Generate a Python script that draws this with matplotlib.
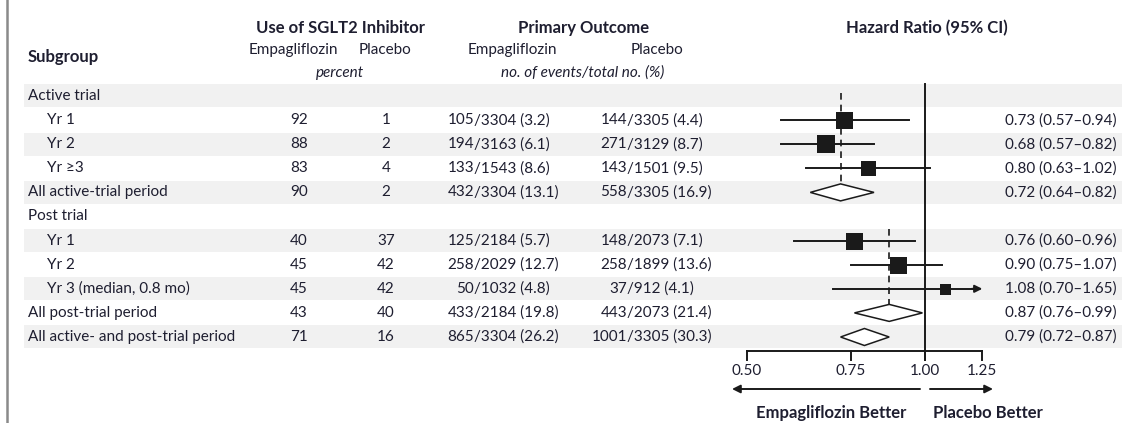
import numpy as np
import matplotlib.pyplot as plt
from matplotlib.patches import Polygon

plt.rcParams['font.family'] = ['Lato', 'DejaVu Sans']

# ---- data -------------------------------------------------------------
labels = ["Active trial", "Yr 1", "Yr 2", "Yr \u22653", "All active-trial period",
          "Post trial", "Yr 1", "Yr 2", "Yr 3 (median, 0.8 mo)",
          "All post-trial period", "All active- and post-trial period"]
kind = ["group", "sub", "sub", "sub", "overall",
        "group", "sub", "sub", "sub", "overall", "overall"]

sglt2_empa = [None, 92, 88, 83, 90, None, 40, 45, 45, 43, 71]
sglt2_pbo = [None, 1, 2, 4, 2, None, 37, 42, 42, 40, 16]

empa_events = [None, 105, 194, 133, 432, None, 125, 258, 50, 433, 865]
empa_total = [None, 3304, 3163, 1543, 3304, None, 2184, 2029, 1032, 2184, 3304]
empa_pct = [None, 3.2, 6.1, 8.6, 13.1, None, 5.7, 12.7, 4.8, 19.8, 26.2]

pbo_events = [None, 144, 271, 143, 558, None, 148, 258, 37, 443, 1001]
pbo_total = [None, 3305, 3129, 1501, 3305, None, 2073, 1899, 912, 2073, 3305]
pbo_pct = [None, 4.4, 8.7, 9.5, 16.9, None, 7.1, 13.6, 4.1, 21.4, 30.3]

hr = [None, 0.73, 0.68, 0.80, 0.72, None, 0.76, 0.90, 1.08, 0.87, 0.79]
hr_lo = [None, 0.57, 0.57, 0.63, 0.64, None, 0.60, 0.75, 0.70, 0.76, 0.72]
hr_hi = [None, 0.94, 0.82, 1.02, 0.82, None, 0.96, 1.07, 1.65, 0.99, 0.87]

ticks = [0.50, 0.75, 1.00, 1.25]

# ---- styling / layout -------------------------------------------------
TXT = "#1e1e30"
BAND = "#f1f1f1"
INK = "#1a1a1a"
FS = 11
FSB = 12
box_px = [None, 17, 18, 15, None, None, 17, 17, 11, None, None]

W, H = 1122, 423
row0, step = 96, 24.1


def row_y(i):
    return row0 + step * i


fig = plt.figure(figsize=(W / 100, H / 100), dpi=100)
bg = fig.add_axes([0, 0, 1, 1])
bg.set_xlim(0, W)
bg.set_ylim(H, 0)
bg.axis("off")

# left frame line
bg.plot([7, 7], [0, H], color="#8a8a8a", lw=1.8)

# alternating bands
for i in range(len(labels)):
    if i % 2 == 0:
        y = row_y(i)
        bg.fill_between([24, W], y - 11.5, y + 11.5, color=BAND, lw=0)

# headers
hdr = dict(color=TXT, fontsize=FS, ha="center", va="center")
bold = dict(color=TXT, fontsize=FSB, fontweight="bold", ha="center", va="center")
bg.text(341, 28, "Use of SGLT2 Inhibitor", **bold)
bg.text(584, 28, "Primary Outcome", **bold)
bg.text(927, 28, "Hazard Ratio (95% CI)", **bold)
bg.text(28, 57, "Subgroup", color=TXT, fontsize=FSB, fontweight="bold", va="center")
bg.text(293, 50, "Empagliflozin", **hdr)
bg.text(385, 50, "Placebo", **hdr)
bg.text(512, 50, "Empagliflozin", **hdr)
bg.text(657, 50, "Placebo", **hdr)
bg.text(340, 73, "percent", style="italic", **hdr)
bg.text(583, 73, "no. of events/total no. (%)", style="italic", **hdr)

# table body
slash_e, slash_p = 474, 627
for i, lab in enumerate(labels):
    y = row_y(i)
    x = 47 if kind[i] == "sub" else 28
    bg.text(x, y, lab, color=TXT, fontsize=FS, va="center")
    if sglt2_empa[i] is None:
        continue
    bg.text(299, y, str(sglt2_empa[i]), color=TXT, fontsize=FS, ha="center", va="center")
    bg.text(386, y, str(sglt2_pbo[i]), color=TXT, fontsize=FS, ha="center", va="center")
    bg.text(slash_e, y, str(empa_events[i]), color=TXT, fontsize=FS, ha="right", va="center")
    bg.text(slash_e, y, "/%d (%.1f)" % (empa_total[i], empa_pct[i]),
            color=TXT, fontsize=FS, ha="left", va="center")
    bg.text(slash_p, y, str(pbo_events[i]), color=TXT, fontsize=FS, ha="right", va="center")
    bg.text(slash_p, y, "/%d (%.1f)" % (pbo_total[i], pbo_pct[i]),
            color=TXT, fontsize=FS, ha="left", va="center")
    bg.text(1117, y, "%.2f (%.2f\u2013%.2f)" % (hr[i], hr_lo[i], hr_hi[i]),
            color=TXT, fontsize=FS, ha="right", va="center")

# ---- forest panel (log scale) ----------------------------------------
x_one, per_ln = 925, 257
left_px, right_px = 700, 1000
ax = fig.add_axes([left_px / W, 0, (right_px - left_px) / W, 1])
ax.set_xscale("log")
ax.set_xlim(np.exp((left_px - x_one) / per_ln), np.exp((right_px - x_one) / per_ln))
ax.set_ylim(H, 0)
ax.axis("off")
ax.patch.set_alpha(0)

axis_y = 351
ax.plot([1.0, 1.0], [84, axis_y + 9], color=INK, lw=1.4)
ax.plot([ticks[0], ticks[-1]], [axis_y, axis_y], color=INK, lw=1.4)
for t in ticks:
    ax.plot([t, t], [axis_y, axis_y + 9], color=INK, lw=1.4)
    ax.text(t, axis_y + 20, "%.2f" % t, color=TXT, fontsize=FS, ha="center", va="center")

xmax = ticks[-1]
for i in range(len(labels)):
    if hr[i] is None:
        continue
    y = row_y(i)
    if kind[i] == "overall":
        d = 8.5
        poly = Polygon([(hr_lo[i], y), (hr[i], y - d), (hr_hi[i], y), (hr[i], y + d)],
                       closed=True, facecolor="white", edgecolor=INK, lw=1.1, zorder=3)
        ax.add_patch(poly)
    else:
        if hr_hi[i] > xmax:
            ax.plot([hr_lo[i], xmax * 0.97], [y, y], color=INK, lw=1.4)
            ax.annotate("", xy=(xmax, y), xytext=(xmax * 0.96, y),
                        arrowprops=dict(arrowstyle="-|>", color=INK, lw=1.4,
                                        mutation_scale=11, shrinkA=0, shrinkB=0))
        else:
            ax.plot([hr_lo[i], hr_hi[i]], [y, y], color=INK, lw=1.4)
        ax.plot(hr[i], y, marker="s", color=INK, markersize=box_px[i] * 0.72,
                markeredgewidth=0, zorder=4)

# dashed lines at the period summaries
ax.plot([hr[4], hr[4]], [row_y(0) - 3, row_y(4) - 8.5], color=INK, lw=1.2,
        ls=(0, (4, 3)), zorder=2)
ax.plot([hr[9], hr[9]], [row_y(6) - 12, row_y(9) - 8.5], color=INK, lw=1.2,
        ls=(0, (4, 3)), zorder=2)

# direction arrows
arr_y = 389
ax.annotate("", xy=(np.exp((732 - x_one) / per_ln), arr_y),
            xytext=(np.exp((920 - x_one) / per_ln), arr_y),
            arrowprops=dict(arrowstyle="-|>", color=INK, lw=1.4, mutation_scale=12,
                            shrinkA=0, shrinkB=0))
ax.annotate("", xy=(np.exp((993 - x_one) / per_ln), arr_y),
            xytext=(np.exp((930 - x_one) / per_ln), arr_y),
            arrowprops=dict(arrowstyle="-|>", color=INK, lw=1.4, mutation_scale=12,
                            shrinkA=0, shrinkB=0))

bg.text(831, 413, "Empagliflozin Better", color=TXT, fontsize=FSB, fontweight="bold",
        ha="center", va="center")
bg.text(988, 413, "Placebo Better", color=TXT, fontsize=FSB, fontweight="bold",
        ha="center", va="center")

fig.savefig("out.png", dpi=100)
